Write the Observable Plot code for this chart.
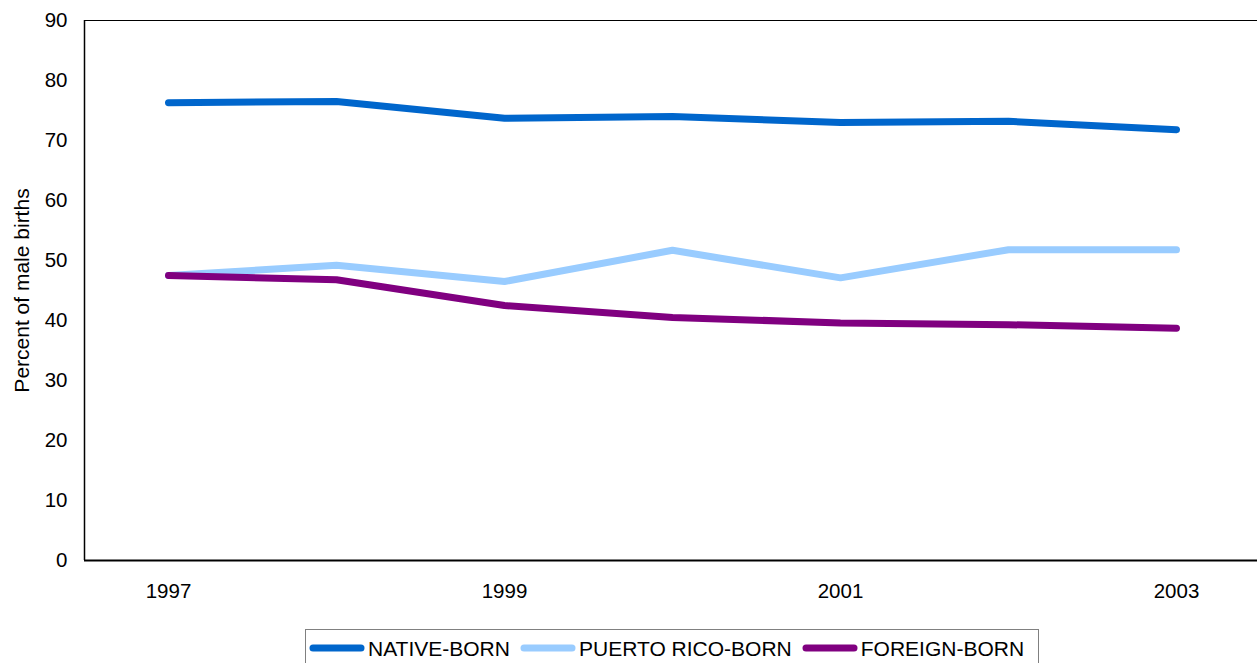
<!DOCTYPE html>
<html>
<head>
<meta charset="utf-8">
<script src="https://cdn.jsdelivr.net/npm/d3@7"></script>
<script src="https://cdn.jsdelivr.net/npm/@observablehq/plot@0.6"></script>
<style>
  html, body { margin: 0; padding: 0; background: #fff; }
  #wrap { position: relative; width: 1257px; height: 663px; overflow: hidden; font-family: "Liberation Sans", Arial, sans-serif; }
  #legend { position: absolute; left: 305px; top: 629px; height: 40px; border: 1px solid #808080; box-sizing: border-box;
    display: flex; align-items: flex-start; padding: 0 14px 0 3px; background: #fff; }
  .item { display: flex; align-items: center; height: 36px; margin-right: 10px; }
  .item:last-child { margin-right: 0; }
  .item svg { display: block; margin-right: 3px; }
  .item span { font-size: 21px; color: #000; line-height: 1; white-space: nowrap; }
</style>
</head>
<body>
<div id="wrap"></div>
<script>
const years = [1997, 1998, 1999, 2000, 2001, 2002, 2003];
const nativeBorn = [76.3, 76.5, 73.7, 74.0, 73.0, 73.2, 71.8];
const puertoRicoBorn = [47.5, 49.2, 46.5, 51.7, 47.1, 51.8, 51.8];
const foreignBorn = [47.5, 46.8, 42.5, 40.5, 39.6, 39.3, 38.7];
const seriesNames = ["NATIVE-BORN", "PUERTO RICO-BORN", "FOREIGN-BORN"];
const seriesColors = ["#0066CC", "#99CCFF", "#800080"];
const xTicks = [1997, 1999, 2001, 2003];
const yTicks = [0, 10, 20, 30, 40, 50, 60, 70, 80, 90];
const yLabel = "Percent of male births";

const seriesValues = [nativeBorn, puertoRicoBorn, foreignBorn];
const data = [];
seriesNames.forEach((name, i) => {
  years.forEach((yr, j) => data.push({series: name, year: yr, value: seriesValues[i][j]}));
});

const font = "'Liberation Sans', Arial, sans-serif";
const chart = Plot.plot({
  width: 1257,
  height: 625,
  marginLeft: 84,
  marginRight: 0,
  marginTop: 20,
  marginBottom: 65,
  style: {fontFamily: font, fontSize: "20.5px", color: "#000", background: "#fff", overflow: "visible"},
  x: {type: "linear", domain: [1996.5, 2003.5], range: [84, 1260], label: null},
  y: {domain: [0, 90], label: null},
  color: {domain: seriesNames, range: seriesColors},
  marks: [
    Plot.axisX({ticks: xTicks, tickSize: 0, tickPadding: 23, tickFormat: d => String(d), label: null}),
    Plot.axisY({ticks: yTicks, tickSize: 0, tickPadding: 17, label: null}),
    Plot.axisY({ticks: [], label: yLabel, labelAnchor: "center", labelArrow: "none", labelOffset: 70, fontSize: 21}),
    Plot.ruleY([90], {stroke: "#000", strokeWidth: 1.2}),
    Plot.ruleX([1996.5], {stroke: "#000", strokeWidth: 1.5}),
    Plot.ruleY([0], {stroke: "#000", strokeWidth: 2}),
    Plot.line(data, {x: "year", y: "value", z: "series", stroke: "series", strokeWidth: 7,
      strokeLinecap: "round", strokeLinejoin: "miter"})
  ]
});
const wrap = document.getElementById("wrap");
wrap.appendChild(chart);

const legend = document.createElement("div");
legend.id = "legend";
seriesNames.forEach((name, i) => {
  const item = document.createElement("div");
  item.className = "item";
  item.innerHTML = `<svg width="56" height="10"><line x1="4" y1="5" x2="52" y2="5" stroke="${seriesColors[i]}" stroke-width="7" stroke-linecap="round"/></svg><span>${name}</span>`;
  legend.appendChild(item);
});
wrap.appendChild(legend);
</script>
</body>
</html>
